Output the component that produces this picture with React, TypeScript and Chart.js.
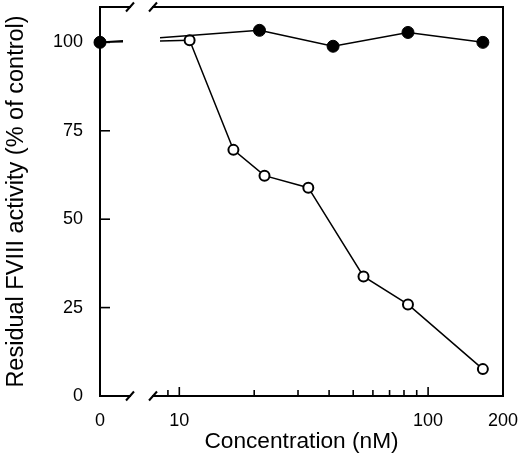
// @ts-nocheck
import React, { useEffect, useRef } from "react";
import { Chart, LinearScale, registerables } from "chart.js";

// concentration (nM) against residual FVIII activity (% of control)
const filledConc = [0, 21, 41.5, 83, 166];
const filledActivity = [100, 103.4, 98.9, 102.8, 100.0];
const openConc = [0, 11, 16.5, 22, 33, 55, 83, 166];
const openActivity = [100, 100.6, 69.6, 62.3, 58.9, 33.8, 25.9, 7.6];

const xLabelTicks = [0, 10, 100, 200];
const xMajorMarks = [10, 100];
const xMinorMarks = [9, 20, 30, 40, 50, 60, 70, 80, 90];
const yTicks = [0, 25, 50, 75, 100];

const X_LOG_START = 4.8; // the zero point stands where this value would be on the log axis
const X_MAX = 200;
const Y_MAX = 110;

const FONT = "'Liberation Sans', Arial, Helvetica, sans-serif";

// log axis with a single zero point at its left end
class BrokenLogScale extends LinearScale {
  static id = "brokenLog";
  static defaults = LinearScale.defaults;

  determineDataLimits() {
    this.min = 0;
    this.max = X_MAX;
  }

  buildTicks() {
    return xLabelTicks.map((value) => ({ value }));
  }

  getPixelForValue(value) {
    const lo = Math.log10(X_LOG_START);
    const hi = Math.log10(this.max);
    const u = value > 0 ? Math.log10(value) : lo;
    return this.getPixelForDecimal((u - lo) / (hi - lo));
  }

  getValueForPixel(pixel) {
    const lo = Math.log10(X_LOG_START);
    const hi = Math.log10(this.max);
    return Math.pow(10, lo + this.getDecimalForPixel(pixel) * (hi - lo));
  }
}

Chart.register(...registerables, BrokenLogScale);

// pixel offsets of the axis break, from the left edge
const BREAK_L = 30;
const BREAK_R = 53;
// gap in the first line segment, from the zero point
const LINE_GAP_START = 23;
const LINE_GAP_END = 60;

const breakDash = (ctx) => {
  if (ctx.p0DataIndex !== 0) return undefined;
  const dx = ctx.p1.x - ctx.p0.x;
  const len = Math.hypot(dx, ctx.p1.y - ctx.p0.y);
  const k = len / dx;
  return [LINE_GAP_START * k, (LINE_GAP_END - LINE_GAP_START) * k, len + 100];
};

const noEdgePadding = (scale) => {
  scale.paddingTop = 0;
  scale.paddingBottom = 0;
  scale.paddingLeft = 0;
  scale.paddingRight = 0;
};

const framePlugin = {
  id: "frame",
  beforeDatasetsDraw(chart) {
    const { ctx, chartArea, scales } = chart;
    const { left, right, top, bottom } = chartArea;
    const line = (x1, y1, x2, y2) => {
      ctx.beginPath();
      ctx.moveTo(x1, y1);
      ctx.lineTo(x2, y2);
      ctx.stroke();
    };
    ctx.save();
    ctx.strokeStyle = "#000";
    ctx.lineWidth = 2;
    ctx.lineCap = "square";
    line(left, bottom, left, top);
    line(right, top, right, bottom);
    for (const yy of [top, bottom]) {
      line(left, yy, left + BREAK_L, yy);
      line(left + BREAK_R, yy, right, yy);
    }
    ctx.lineCap = "butt";
    for (const yy of [top, bottom]) {
      for (const bx of [left + BREAK_L, left + BREAK_R]) {
        line(bx - 4, yy + 4.5, bx + 4, yy - 4.5);
      }
    }
    ctx.lineWidth = 1.6;
    for (const v of xMajorMarks) {
      const px = scales.x.getPixelForValue(v);
      line(px, bottom, px, bottom - 9);
    }
    for (const v of xMinorMarks) {
      const px = scales.x.getPixelForValue(v);
      line(px, bottom, px, bottom - 6);
    }
    for (const v of yTicks) {
      const py = scales.y.getPixelForValue(v);
      line(left, py, left + 10, py);
    }
    ctx.restore();
  },
};

const App: React.FC = () => {
  const canvasRef = useRef(null);
  const chartRef = useRef(null);

  useEffect(() => {
    document.body.style.margin = "0";
    if (!canvasRef.current) return;
    if (chartRef.current) chartRef.current.destroy();

    chartRef.current = new Chart(canvasRef.current, {
      type: "line",
      data: {
        datasets: [
          {
            label: "filled",
            data: filledConc.map((x, i) => ({ x, y: filledActivity[i] })),
            borderColor: "#000",
            borderWidth: 1.5,
            pointRadius: 6,
            pointBackgroundColor: "#000",
            pointBorderColor: "#000",
            pointBorderWidth: 1,
            clip: false,
            segment: { borderDash: breakDash },
          },
          {
            label: "open",
            data: openConc.map((x, i) => ({ x, y: openActivity[i] })),
            borderColor: "#000",
            borderWidth: 1.5,
            pointRadius: 5,
            pointBackgroundColor: "#fff",
            pointBorderColor: "#000",
            pointBorderWidth: 2,
            clip: false,
            segment: { borderDash: breakDash },
          },
        ],
      },
      options: {
        responsive: false,
        animation: false,
        events: [],
        layout: { padding: { left: 0, right: 17, top: 6, bottom: 0 } },
        plugins: { legend: { display: false }, tooltip: { enabled: false } },
        scales: {
          x: {
            type: "brokenLog",
            position: "bottom",
            border: { display: false },
            grid: { display: false, drawTicks: false },
            ticks: {
              autoSkip: false,
              maxRotation: 0,
              padding: 14,
              color: "#000",
              font: { family: FONT, size: 18 },
              callback: (v) => String(v),
            },
            title: {
              display: true,
              text: "Concentration (nM)",
              color: "#000",
              font: { family: FONT, size: 22.7 },
              padding: { top: 0, bottom: 12 },
            },
            afterFit: (scale) => {
              scale.height = 71;
              noEdgePadding(scale);
            },
          },
          y: {
            type: "linear",
            min: 0,
            max: Y_MAX,
            border: { display: false },
            grid: { display: false, drawTicks: false },
            afterBuildTicks: (scale) => {
              scale.ticks = yTicks.map((value) => ({ value }));
            },
            ticks: {
              padding: 17,
              color: "#000",
              font: { family: FONT, size: 18 },
            },
            title: {
              display: true,
              text: "Residual FVIII activity (% of control)",
              color: "#000",
              font: { family: FONT, size: 23.5 },
              padding: { top: 2, bottom: 0 },
            },
            afterFit: (scale) => {
              scale.width = 100;
              noEdgePadding(scale);
            },
          },
        },
      },
      plugins: [framePlugin],
    });

    return () => {
      if (chartRef.current) {
        chartRef.current.destroy();
        chartRef.current = null;
      }
    };
  }, []);

  return (
    <div style={{ width: 520, height: 467 }}>
      <canvas ref={canvasRef} width={520} height={467} style={{ display: "block" }} />
    </div>
  );
};

export default App;
